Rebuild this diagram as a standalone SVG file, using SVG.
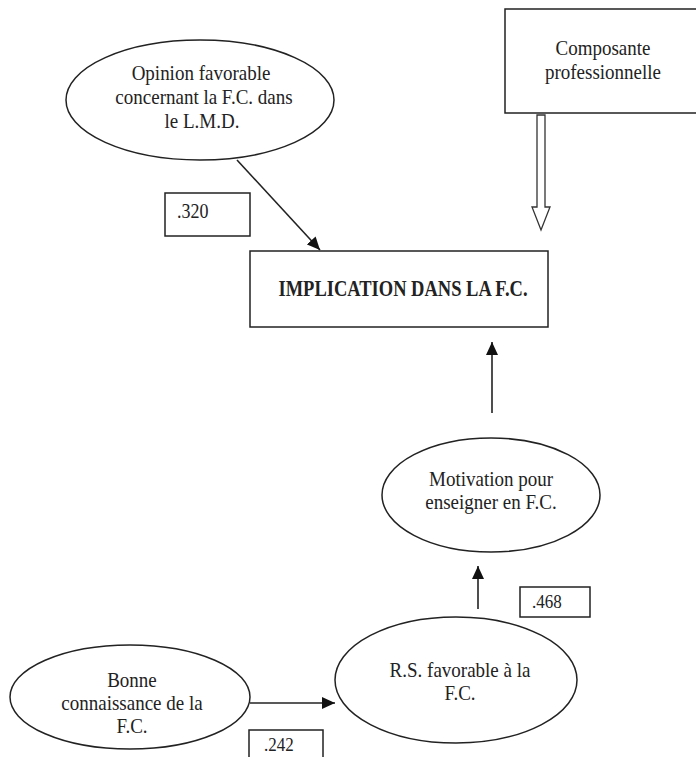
<svg xmlns="http://www.w3.org/2000/svg" width="696" height="757" viewBox="0 0 696 757">
<defs>
<style>
.shape{fill:#fff;stroke:#222;stroke-width:1.5}
text{font-family:'Liberation Serif','DejaVu Serif','Times New Roman',serif;fill:#222}
.t{font-size:19px;text-anchor:middle}
.n{font-size:17px}
.b{font-size:18.5px;font-weight:bold;text-anchor:middle}
.c{stroke:#222;stroke-width:1.6;fill:none}
</style>
<marker id="ah" markerUnits="userSpaceOnUse" markerWidth="14" markerHeight="12" refX="13" refY="6" orient="auto">
<path d="M0,0 L13,6 L0,12 Z" fill="#111"/>
</marker>
</defs>
<rect width="696" height="757" fill="#fff"/>

<g id="connectors">
<line class="c" x1="237" y1="160" x2="320" y2="250" marker-end="url(#ah)"/>
<line class="c" x1="492" y1="413" x2="492" y2="342" marker-end="url(#ah)"/>
<line class="c" x1="478" y1="609" x2="478" y2="566" marker-end="url(#ah)"/>
<line class="c" x1="250" y1="703" x2="335" y2="703" marker-end="url(#ah)"/>
<path d="M537,115 L545,115 L545,207 L550,207 L541,230 L532,207 L537,207 Z" fill="#fff" stroke="#333" stroke-width="1.3"/>
</g>

<g id="opinion">
<ellipse class="shape" cx="200" cy="100" rx="134" ry="60"/>
<text class="t" transform="translate(201,80) scale(1,1.15)">Opinion favorable</text>
<text class="t" transform="translate(204,104) scale(1,1.15)">concernant la F.C. dans</text>
<text class="t" transform="translate(202,128) scale(1,1.15)">le L.M.D.</text>
</g>

<g id="composante">
<rect class="shape" x="505" y="9" width="200" height="104"/>
<text class="t" transform="translate(603,55) scale(1,1.15)">Composante</text>
<text class="t" transform="translate(603,79) scale(1,1.15)">professionnelle</text>
</g>

<g id="label320">
<rect class="shape" x="165" y="193" width="85" height="43"/>
<text class="n" transform="translate(177,218) scale(1,1.15)" style="font-size:18px">.320</text>
</g>

<g id="implication">
<rect class="shape" x="250" y="251" width="298" height="76"/>
<text class="b" transform="translate(403,296) scale(1,1.2)">IMPLICATION DANS LA F.C.</text>
</g>

<g id="motivation">
<ellipse class="shape" cx="491" cy="495" rx="109" ry="57"/>
<text class="t" transform="translate(491,486) scale(1,1.15)">Motivation pour</text>
<text class="t" transform="translate(491,509) scale(1,1.15)">enseigner en F.C.</text>
</g>

<g id="label468">
<rect class="shape" x="520" y="587" width="70" height="30"/>
<text class="n" transform="translate(532,608) scale(1,1.1)">.468</text>
</g>

<g id="rs">
<ellipse class="shape" cx="456" cy="680" rx="121" ry="63"/>
<text class="t" transform="translate(460,677) scale(1,1.15)">R.S. favorable à la</text>
<text class="t" transform="translate(460,700) scale(1,1.15)">F.C.</text>
</g>

<g id="bonne">
<ellipse class="shape" cx="130" cy="697" rx="120" ry="52"/>
<text class="t" transform="translate(132,687) scale(1,1.15)">Bonne</text>
<text class="t" transform="translate(132,710) scale(1,1.15)">connaissance de la</text>
<text class="t" transform="translate(132,733) scale(1,1.15)">F.C.</text>
</g>

<g id="label242">
<rect class="shape" x="249" y="730" width="74" height="40"/>
<text class="n" transform="translate(264,751) scale(1,1.1)">.242</text>
</g>
</svg>
